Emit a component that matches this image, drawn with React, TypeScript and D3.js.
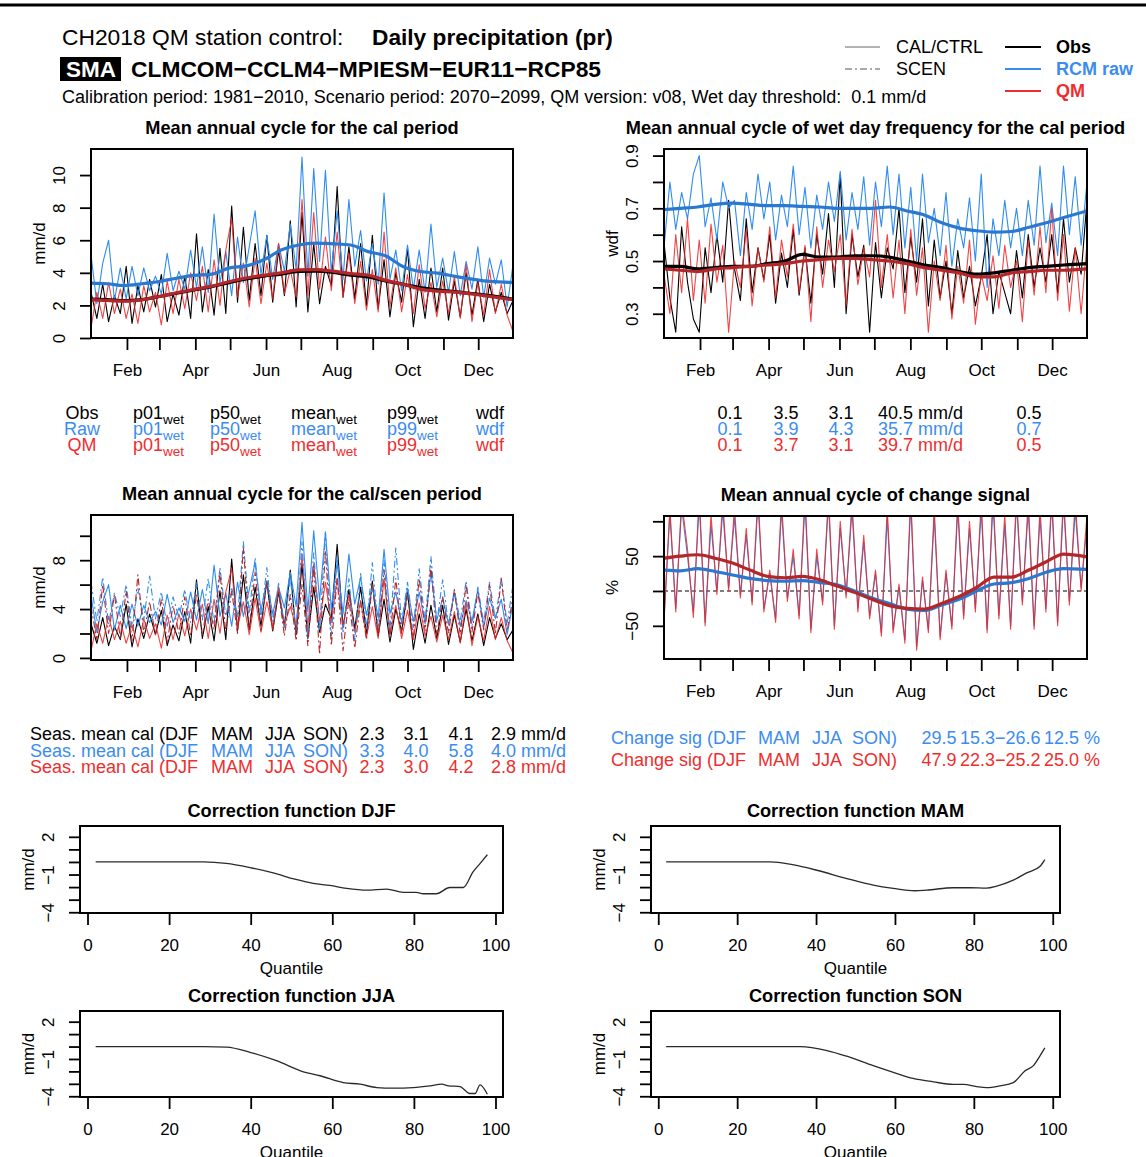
import React, { useRef, useEffect } from "react";
import * as d3 from "d3";

const FONT = "'Liberation Sans', Arial, Helvetica, sans-serif";

// month starts (day of year) and labels shown under the ticks
const monthDays = [32, 60, 91, 121, 152, 182, 213, 244, 274, 305, 335];
const monthLabels = ["Feb", "", "Apr", "", "Jun", "", "Aug", "", "Oct", "", "Dec"];

// days for the smoothed curves
const smoothDays = [1, 15, 30, 45, 60, 75, 90, 105, 120, 135, 150, 165, 180, 195, 210, 225, 240, 255, 270, 285, 300, 315, 330, 345, 365];

// daily cycle, sampled ~every 5 days (73 values, Jan -> Dec), mm/d
const obsCal = [
  2.8, 1.2, 3.3, 1.0, 2.6, 1.5, 4.4, 0.9, 3.2, 1.6, 3.6, 1.9, 3.9, 1.0, 2.7, 1.4, 3.8, 1.2,
  6.4, 1.6, 4.2, 1.4, 5.5, 1.5, 8.1, 2.2, 6.8, 2.3, 5.8, 2.6, 6.3, 2.2, 5.4, 2.6, 7.2, 1.9,
  7.7, 1.6, 5.8, 2.1, 4.4, 3.2, 9.3, 2.5, 5.6, 2.4, 5.8, 2.0, 6.3, 1.8, 4.8, 1.3, 4.0, 2.2,
  5.5, 0.7, 3.6, 1.2, 4.3, 1.6, 4.3, 1.1, 3.5, 1.3, 4.0, 1.4, 3.6, 1.0, 3.3, 1.6, 2.8, 1.5, 2.3,
];
const rawCal = [
  5.1, 2.1, 4.6, 6.0, 2.3, 4.3, 2.4, 4.4, 2.6, 4.3, 2.9, 3.8, 2.7, 5.2, 2.9, 4.1, 3.0, 5.4,
  3.1, 5.6, 2.8, 7.6, 3.4, 5.3, 2.6, 6.2, 3.4, 5.6, 7.8, 3.9, 6.3, 3.6, 5.8, 4.1, 7.0, 4.2,
  11.1, 3.8, 10.4, 4.7, 10.3, 4.0, 7.8, 3.6, 8.5, 4.4, 6.6, 3.5, 5.8, 3.3, 8.9, 3.6, 5.4, 2.9,
  5.7, 3.0, 5.4, 2.8, 7.0, 3.1, 4.9, 2.8, 5.3, 2.6, 4.7, 3.0, 5.6, 2.5, 4.9, 3.3, 4.8, 1.9, 4.5,
];
const qmCal = [
  0.6, 2.8, 1.2, 3.4, 1.5, 3.0, 1.2, 2.7, 0.9, 3.2, 1.6, 2.8, 0.8, 3.5, 1.5, 3.6, 1.8, 4.0,
  2.3, 4.4, 1.6, 4.8, 2.0, 5.4, 7.3, 2.5, 4.6, 1.9, 4.9, 2.1, 4.6, 2.4, 5.8, 2.7, 4.2, 2.5,
  8.5, 2.6, 7.7, 3.0, 6.2, 2.9, 6.5, 2.5, 5.2, 2.1, 4.7, 1.7, 4.2, 1.6, 6.5, 1.9, 4.3, 1.6,
  3.9, 1.5, 4.5, 1.8, 3.4, 1.3, 3.5, 1.5, 3.8, 1.2, 4.5, 1.0, 3.4, 1.4, 4.2, 1.5, 3.3, 1.4, 0.4,
];
const rawScen = [
  6.2, 3.0, 6.6, 2.8, 5.3, 3.4, 6.0, 2.5, 5.7, 3.1, 6.7, 3.2, 5.4, 2.6, 5.0, 3.3, 5.6, 2.9,
  6.2, 3.1, 6.5, 2.8, 7.4, 3.4, 5.8, 3.3, 9.5, 3.6, 8.2, 3.2, 7.4, 3.0, 6.1, 2.5, 6.6, 2.2,
  9.5, 1.6, 8.6, 2.2, 10.3, 1.8, 8.3, 2.0, 6.5, 1.3, 6.9, 2.4, 7.8, 2.5, 8.0, 2.2, 9.0, 2.8,
  6.2, 2.5, 7.3, 3.0, 8.3, 2.9, 6.4, 2.7, 5.6, 3.0, 6.3, 2.6, 5.8, 2.9, 6.2, 3.1, 6.6, 2.8, 6.0,
];
const qmScen = [
  4.2, 1.5, 6.0, 2.0, 5.2, 1.6, 5.5, 1.4, 6.8, 2.0, 4.6, 1.9, 4.8, 1.3, 4.3, 2.0, 5.0, 1.8,
  5.2, 1.9, 4.8, 2.3, 7.0, 2.1, 5.5, 2.0, 9.0, 2.4, 7.0, 2.2, 6.3, 2.2, 5.5, 1.8, 5.2, 1.4,
  6.0, 1.0, 7.5, 0.3, 8.8, 1.0, 6.5, 0.6, 4.8, 0.8, 4.6, 1.5, 6.0, 1.8, 7.2, 1.6, 6.5, 2.0,
  5.2, 1.7, 6.5, 2.2, 7.5, 1.8, 5.0, 2.0, 5.6, 1.9, 6.0, 2.1, 5.4, 2.3, 6.0, 2.0, 6.5, 2.2, 5.0,
];
const obsSmooth = [2.39, 2.35, 2.29, 2.35, 2.55, 2.75, 2.95, 3.15, 3.4, 3.62, 3.8, 3.92, 4.08, 4.1, 4.02, 3.85, 3.75, 3.5, 3.3, 3.1, 2.95, 2.85, 2.72, 2.6, 2.38];
const rawSmooth = [3.37, 3.33, 3.22, 3.33, 3.47, 3.67, 3.84, 3.92, 4.29, 4.43, 4.8, 5.4, 5.71, 5.82, 5.78, 5.71, 5.3, 5.05, 4.39, 4.08, 3.98, 3.78, 3.61, 3.47, 3.41];
const qmSmooth = [2.36, 2.3, 2.26, 2.35, 2.55, 2.78, 2.98, 3.18, 3.45, 3.68, 3.85, 4.0, 4.18, 4.2, 4.1, 3.95, 3.85, 3.55, 3.3, 3.0, 2.88, 2.82, 2.7, 2.55, 2.35];

// wet day frequency
const obsWdf = [
  0.57, 0.36, 0.23, 0.63, 0.42, 0.28, 0.23, 0.55, 0.38, 0.6, 0.42, 0.73, 0.47, 0.35, 0.66, 0.38, 0.55, 0.43,
  0.6, 0.34, 0.53, 0.4, 0.62, 0.37, 0.55, 0.34, 0.6, 0.45, 0.68, 0.4, 0.83, 0.3, 0.6, 0.44, 0.56, 0.23,
  0.57, 0.36, 0.55, 0.47, 0.7, 0.38, 0.59, 0.42, 0.66, 0.33, 0.58, 0.36, 0.5, 0.3, 0.54, 0.36, 0.48, 0.33,
  0.44, 0.6, 0.3, 0.46, 0.38, 0.3, 0.54, 0.36, 0.6, 0.4, 0.55, 0.42, 0.6, 0.38, 0.66, 0.42, 0.55, 0.45, 0.73,
];
const rawWdf = [
  0.55, 0.8, 0.62, 0.76, 0.66, 0.83, 0.9, 0.63, 0.74, 0.58, 0.8, 0.7, 0.73, 0.52, 0.76, 0.62, 0.83, 0.66,
  0.8, 0.58, 0.75, 0.63, 0.86, 0.6, 0.78, 0.55, 0.75, 0.62, 0.8, 0.65, 0.84, 0.58, 0.76, 0.62, 0.82, 0.56,
  0.8, 0.63, 0.86, 0.6, 0.83, 0.55, 0.78, 0.5, 0.83, 0.57, 0.7, 0.52, 0.76, 0.48, 0.66, 0.55, 0.74, 0.5,
  0.83, 0.4, 0.66, 0.52, 0.73, 0.55, 0.7, 0.52, 0.73, 0.56, 0.86, 0.57, 0.72, 0.52, 0.86, 0.6, 0.82, 0.56, 0.8,
];
const qmWdf = [
  0.45, 0.3, 0.6, 0.38, 0.66, 0.35, 0.58, 0.34, 0.64, 0.42, 0.56, 0.23, 0.5, 0.4, 0.62, 0.33, 0.55, 0.42,
  0.63, 0.36, 0.58, 0.44, 0.64, 0.38, 0.56, 0.27, 0.63, 0.4, 0.58, 0.46, 0.6, 0.33, 0.62, 0.41, 0.55, 0.44,
  0.73, 0.4, 0.6, 0.36, 0.58, 0.3, 0.62, 0.37, 0.55, 0.23, 0.5, 0.35, 0.56, 0.28, 0.48, 0.34, 0.58, 0.26,
  0.45, 0.35, 0.52, 0.32, 0.56, 0.4, 0.5, 0.27, 0.58, 0.37, 0.63, 0.38, 0.7, 0.35, 0.6, 0.31, 0.55, 0.3, 0.57,
];
const obsWdfSmooth = [0.48, 0.48, 0.47, 0.475, 0.48, 0.48, 0.49, 0.5, 0.525, 0.515, 0.515, 0.52, 0.52, 0.515, 0.5, 0.485, 0.475, 0.46, 0.45, 0.455, 0.465, 0.475, 0.48, 0.485, 0.49];
const rawWdfSmooth = [0.695, 0.7, 0.705, 0.715, 0.72, 0.715, 0.71, 0.71, 0.707, 0.705, 0.7, 0.7, 0.7, 0.705, 0.69, 0.675, 0.645, 0.625, 0.615, 0.61, 0.612, 0.628, 0.645, 0.665, 0.69];
const qmWdfSmooth = [0.47, 0.465, 0.46, 0.47, 0.475, 0.48, 0.485, 0.49, 0.5, 0.505, 0.51, 0.51, 0.505, 0.5, 0.49, 0.475, 0.465, 0.455, 0.44, 0.44, 0.455, 0.46, 0.465, 0.465, 0.47];

// change signal, %
const rawChange = [
  -40, 110, -25, 120, 50, -30, 125, -45, 95, 0, 115, 5, 105, -5, 80, -15, 125, -25,
  25, -40, 115, -10, 50, -35, 125, -55, 50, -15, 125, -50, 90, -5, 115, -25, 70, -35,
  25, -60, 105, -55, 5, -70, 125, -80, 15, -55, 105, -65, 25, -50, 115, -35, 90, -25,
  115, -55, 125, -35, 95, -50, 125, -15, 115, -50, 105, -25, 125, -45, 125, -15, 115, 5, 95,
];
const qmChange = [
  -45, 120, -30, 130, 60, -38, 140, -50, 110, -5, 130, 0, 120, -10, 90, -20, 140, -30,
  30, -45, 130, -15, 60, -40, 140, -60, 60, -20, 140, -55, 100, -10, 130, -30, 80, -40,
  30, -65, 120, -60, 10, -75, 140, -85, 20, -60, 120, -70, 30, -55, 130, -40, 100, -30,
  130, -60, 140, -40, 110, -55, 140, -20, 130, -55, 120, -30, 140, -50, 140, -20, 130, 0, 110,
];
const rawChangeSmooth = [30, 29, 32, 28, 23, 18, 15, 14, 15, 12, 9, 0, -10, -18, -26, -28, -20, -12, 0, 10, 12, 18, 27, 32, 31];
const qmChangeSmooth = [47, 50, 52, 47, 40, 30, 21, 19, 21, 16, 7, -2, -12, -21, -25, -26, -18, -8, 5, 20, 20, 30, 42, 53, 49];

// correction functions (quantile, mm/d)
const qDJF = [2, 28.5, 34, 39.8, 45.5, 50.8, 55.3, 59.4, 63.5, 68.4, 73.3, 77.4, 80.6, 82.3, 85.5, 88.8, 92.1, 94.5, 96.2, 98];
const cDJF = [0, 0, -0.12, -0.45, -0.87, -1.37, -1.71, -1.87, -2.1, -2.24, -2.16, -2.42, -2.42, -2.53, -2.53, -2.03, -2.03, -0.79, -0.13, 0.58];
const qMAM = [2, 28.4, 34, 40.2, 47.8, 54.5, 59.6, 65.1, 68, 74.8, 79, 83.2, 85.8, 90, 93.4, 96.8, 98];
const cMAM = [0, 0, -0.22, -0.66, -1.32, -1.84, -2.1, -2.29, -2.24, -2.05, -2.05, -2.08, -1.92, -1.45, -0.87, -0.34, 0.18];
const qJJA = [2, 28.5, 34.1, 39.8, 46.3, 52.9, 57, 62.7, 66.8, 70.9, 75, 79.8, 84, 86.8, 88.5, 91.3, 93.7, 95, 96.2, 98];
const cJJA = [0, 0, -0.05, -0.46, -1.14, -2.03, -2.35, -2.9, -3.03, -3.3, -3.35, -3.3, -3.16, -3.03, -3.16, -3.22, -3.78, -3.78, -3.08, -3.84];
const qSON = [2, 36, 42.8, 47.8, 54.5, 59.6, 64.6, 69.7, 74.8, 77.4, 80.7, 83.2, 86.6, 90, 93, 95.1, 96.8, 98];
const cSON = [0, 0, -0.32, -0.78, -1.54, -2.08, -2.57, -2.84, -3.05, -3.05, -3.22, -3.3, -3.16, -2.9, -1.95, -1.54, -0.73, -0.11];

const C = {
  obs: "#000000",
  raw: "#2f8cf0",
  rawDark: "#2a78cf",
  qm: "#ee2424",
  qmDark: "#b3262a",
  txtBlue: "#3b8cf0",
  txtRed: "#ee2e2e",
};

const txt = (g, x, y, s, o: any = {}) =>
  g
    .append("text")
    .attr("x", x)
    .attr("y", y)
    .attr("font-family", FONT)
    .attr("font-size", o.size ?? 18)
    .attr("font-weight", o.bold ? "bold" : null)
    .attr("fill", o.color ?? "#000")
    .attr("text-anchor", o.anchor ?? "start")
    .style("white-space", "pre")
    .text(s);

// base text with a "wet" subscript
const subTxt = (g, x, y, base, color) => {
  const t = g.append("text").attr("x", x).attr("y", y).attr("font-family", FONT).attr("font-size", 18).attr("fill", color);
  t.append("tspan").text(base);
  t.append("tspan").attr("font-size", 13.5).attr("dy", 5).text("wet");
};

const styleAxis = (a) => {
  a.select(".domain").remove();
  a.selectAll(".tick line").attr("stroke", "#000").attr("stroke-width", 1.8);
  a.selectAll("text").attr("font-family", FONT).attr("font-size", 17).attr("fill", "#000");
};

const yAxisRotated = (g, y, left, ticks, labels) => {
  const a = g
    .append("g")
    .attr("transform", `translate(${left},0)`)
    .call(d3.axisLeft(y).tickValues(ticks).tickSize(11).tickFormat((d, i) => labels[i]));
  styleAxis(a);
  a.selectAll("text")
    .attr("x", 0)
    .attr("y", -26)
    .attr("dy", 0)
    .attr("text-anchor", "middle")
    .attr("transform", "rotate(-90)");
};

const drawBox = (g, l, t, r, b) =>
  g.append("rect").attr("x", l).attr("y", t).attr("width", r - l).attr("height", b - t).attr("fill", "none").attr("stroke", "#000").attr("stroke-width", 2);

let clipCount = 0;

const cyclePanel = (svg, p) => {
  const x = d3.scaleLinear().domain([1, 365]).range([p.left, p.right]);
  const y = d3.scaleLinear().domain(p.yDomain).range([p.bottom, p.top]);
  const g = svg.append("g");
  const id = "clip" + clipCount++;
  svg.append("clipPath").attr("id", id).append("rect").attr("x", p.left).attr("y", p.top).attr("width", p.right - p.left).attr("height", p.bottom - p.top);
  const plot = g.append("g").attr("clip-path", `url(#${id})`);

  if (p.zeroLine) {
    plot.append("line").attr("x1", p.left).attr("x2", p.right).attr("y1", y(0)).attr("y2", y(0)).attr("stroke", "#000").attr("stroke-width", 1.2).attr("stroke-dasharray", "4,3");
  }

  p.lines.forEach((l) => {
    const days = l.smooth ? smoothDays : l.values.map((_, i) => 1 + (i * 364) / (l.values.length - 1));
    const line = d3
      .line<number>()
      .x((_, i) => x(days[i]))
      .y((v) => y(v));
    if (l.smooth) line.curve(d3.curveMonotoneX);
    plot
      .append("path")
      .attr("d", line(l.values))
      .attr("fill", "none")
      .attr("stroke", l.color)
      .attr("stroke-width", l.smooth ? 3.2 : 1.1)
      .attr("stroke-opacity", l.opacity ?? 1)
      .attr("stroke-dasharray", l.dash ?? null)
      .attr("stroke-linejoin", "round");
  });

  drawBox(g, p.left, p.top, p.right, p.bottom);

  const xa = g
    .append("g")
    .attr("transform", `translate(0,${p.bottom})`)
    .call(d3.axisBottom(x).tickValues(monthDays).tickSize(12).tickFormat((d, i) => monthLabels[i]));
  styleAxis(xa);
  xa.selectAll("text").attr("y", 38).attr("dy", 0);

  yAxisRotated(g, y, p.left, p.yTicks, p.yLabels);

  txt(g, (p.left + p.right) / 2, p.top - 15, p.title, { bold: true, size: 18.2, anchor: "middle" });
  g.append("text")
    .attr("transform", `translate(${p.left - 46},${(p.top + p.bottom) / 2}) rotate(-90)`)
    .attr("text-anchor", "middle")
    .attr("font-family", FONT)
    .attr("font-size", 17)
    .text(p.ylab);
};

const corrPanel = (svg, p) => {
  const x = d3.scaleLinear().domain([-1.84, 101.84]).range([p.left, p.right]);
  const y = d3.scaleLinear().domain([-4.06, 2.86]).range([p.bottom, p.top]);
  const g = svg.append("g");
  const line = d3
    .line<number>()
    .x((_, i) => x(p.q[i]))
    .y((v) => y(v))
    .curve(d3.curveMonotoneX);
  g.append("path").attr("d", line(p.c)).attr("fill", "none").attr("stroke", "#2a2a2a").attr("stroke-width", 1.3);
  drawBox(g, p.left, p.top, p.right, p.bottom);

  const xa = g
    .append("g")
    .attr("transform", `translate(0,${p.bottom})`)
    .call(d3.axisBottom(x).tickValues([0, 20, 40, 60, 80, 100]).tickSize(12).tickFormat(d3.format("d")));
  styleAxis(xa);
  xa.selectAll("text").attr("y", 38).attr("dy", 0);

  yAxisRotated(g, y, p.left, [2, 1, 0, -1, -2, -3, -4], ["2", "", "", "\u22121", "", "", "\u22124"]);

  txt(g, (p.left + p.right) / 2, p.top - 9, p.title, { bold: true, size: 18.2, anchor: "middle" });
  txt(g, (p.left + p.right) / 2, p.bottom + 61, "Quantile", { anchor: "middle", size: 17 });
  g.append("text")
    .attr("transform", `translate(${p.left - 46},${(p.top + p.bottom) / 2}) rotate(-90)`)
    .attr("text-anchor", "middle")
    .attr("font-family", FONT)
    .attr("font-size", 17)
    .text("mm/d");
};

const App = () => {
  const svgRef = useRef<SVGSVGElement>(null);

  useEffect(() => {
    const svg = d3.select(svgRef.current);
    svg.selectAll("*").remove();

    // header
    svg.append("line").attr("x1", 0).attr("x2", 1146).attr("y1", 5).attr("y2", 5).attr("stroke", "#000").attr("stroke-width", 3);
    txt(svg, 62, 45, "CH2018 QM station control:", { size: 22.8 });
    txt(svg, 372, 45, "Daily precipitation (pr)", { size: 22.7, bold: true });
    svg.append("rect").attr("x", 60).attr("y", 57).attr("width", 61).attr("height", 24).attr("fill", "#000");
    txt(svg, 66, 77, "SMA", { size: 22.5, bold: true, color: "#fff" });
    txt(svg, 131, 77, "CLMCOM\u2212CCLM4\u2212MPIESM\u2212EUR11\u2212RCP85", { size: 22.8, bold: true });
    txt(svg, 62, 103, "Calibration period: 1981\u22122010, Scenario period: 2070\u22122099, QM version: v08, Wet day threshold:\u00a0\u00a00.1 mm/d", { size: 18 });

    // legend
    const lg = svg.append("g");
    lg.append("line").attr("x1", 845).attr("x2", 880).attr("y1", 47).attr("y2", 47).attr("stroke", "#999").attr("stroke-width", 1.5);
    lg.append("line").attr("x1", 845).attr("x2", 880).attr("y1", 69).attr("y2", 69).attr("stroke", "#555").attr("stroke-width", 1.2).attr("stroke-dasharray", "7,3,2,3");
    txt(lg, 896, 53, "CAL/CTRL");
    txt(lg, 896, 75, "SCEN");
    [
      ["Obs", C.obs, 47],
      ["RCM raw", C.txtBlue, 69],
      ["QM", C.txtRed, 91],
    ].forEach(([s, col, yy]: any) => {
      lg.append("line").attr("x1", 1005).attr("x2", 1041).attr("y1", yy).attr("y2", yy).attr("stroke", col).attr("stroke-width", 2);
      txt(lg, 1056, yy + 6, s, { bold: true, color: col });
    });

    cyclePanel(svg, {
      left: 91, right: 513, top: 149, bottom: 338,
      yDomain: [0, 11.6], yTicks: [0, 2, 4, 6, 8, 10], yLabels: ["0", "2", "4", "6", "8", "10"],
      title: "Mean annual cycle for the cal period", ylab: "mm/d",
      lines: [
        { values: obsCal, color: C.obs },
        { values: rawCal, color: C.raw },
        { values: qmCal, color: C.qm, opacity: 0.85 },
        { values: rawSmooth, color: C.rawDark, smooth: true },
        { values: obsSmooth, color: C.obs, smooth: true },
        { values: qmSmooth, color: C.qmDark, smooth: true },
      ],
    });

    cyclePanel(svg, {
      left: 664, right: 1087, top: 149, bottom: 338,
      yDomain: [0.208, 0.925], yTicks: [0.3, 0.4, 0.5, 0.6, 0.7, 0.8, 0.9], yLabels: ["0.3", "", "0.5", "", "0.7", "", "0.9"],
      title: "Mean annual cycle of wet day frequency for the cal period", ylab: "wdf",
      lines: [
        { values: obsWdf, color: C.obs },
        { values: rawWdf, color: C.raw },
        { values: qmWdf, color: C.qm, opacity: 0.85 },
        { values: rawWdfSmooth, color: C.rawDark, smooth: true },
        { values: obsWdfSmooth, color: C.obs, smooth: true },
        { values: qmWdfSmooth, color: C.qmDark, smooth: true },
      ],
    });

    cyclePanel(svg, {
      left: 91, right: 513, top: 515, bottom: 660,
      yDomain: [-0.17, 11.7], yTicks: [0, 2, 4, 6, 8, 10], yLabels: ["0", "", "4", "", "8", ""],
      title: "Mean annual cycle for the cal/scen period", ylab: "mm/d",
      lines: [
        { values: obsCal, color: C.obs },
        { values: rawCal, color: C.raw },
        { values: qmCal, color: C.qm, opacity: 0.85 },
        { values: rawScen, color: C.raw, dash: "7,3,2,3" },
        { values: qmScen, color: C.qmDark, dash: "7,3,2,3" },
      ],
    });

    cyclePanel(svg, {
      left: 664, right: 1087, top: 516, bottom: 659,
      yDomain: [-97.6, 107.6], yTicks: [-50, 0, 50, 100], yLabels: ["\u221250", "", "50", ""],
      title: "Mean annual cycle of change signal", ylab: "%", zeroLine: true,
      lines: [
        { values: rawChange, color: C.raw },
        { values: qmChange, color: C.qm, opacity: 0.85 },
        { values: rawChangeSmooth, color: C.rawDark, smooth: true },
        { values: qmChangeSmooth, color: C.qmDark, smooth: true },
      ],
    });

    // statistics block (cal period)
    const st = svg.append("g");
    const rowsY = [419, 435, 451];
    const rowNames = ["Obs", "Raw", "QM"];
    const rowCols = [C.obs, C.txtBlue, C.txtRed];
    const statVals = [
      ["0.1", "3.5", "3.1", "40.5 mm/d", "0.5"],
      ["0.1", "3.9", "4.3", "35.7 mm/d", "0.7"],
      ["0.1", "3.7", "3.1", "39.7 mm/d", "0.5"],
    ];
    rowsY.forEach((yy, r) => {
      const col = rowCols[r];
      txt(st, 82, yy, rowNames[r], { color: col, anchor: "middle" });
      subTxt(st, 133, yy, "p01", col);
      subTxt(st, 210, yy, "p50", col);
      subTxt(st, 291, yy, "mean", col);
      subTxt(st, 387, yy, "p99", col);
      txt(st, 476, yy, "wdf", { color: col });
      const v = statVals[r];
      txt(st, 730, yy, v[0], { color: col, anchor: "middle" });
      txt(st, 786, yy, v[1], { color: col, anchor: "middle" });
      txt(st, 841, yy, v[2], { color: col, anchor: "middle" });
      txt(st, 878, yy, v[3], { color: col });
      txt(st, 1029, yy, v[4], { color: col, anchor: "middle" });
    });

    // seasonal means
    const seasVals = [
      ["2.3", "3.1", "4.1", "2.9 mm/d"],
      ["3.3", "4.0", "5.8", "4.0 mm/d"],
      ["2.3", "3.0", "4.2", "2.8 mm/d"],
    ];
    [740, 757, 773].forEach((yy, r) => {
      const col = rowCols[r];
      txt(st, 30, yy, "Seas. mean cal (DJF", { color: col });
      txt(st, 211, yy, "MAM", { color: col });
      txt(st, 265, yy, "JJA", { color: col });
      txt(st, 303, yy, "SON)", { color: col });
      const v = seasVals[r];
      txt(st, 372, yy, v[0], { color: col, anchor: "middle" });
      txt(st, 416, yy, v[1], { color: col, anchor: "middle" });
      txt(st, 461, yy, v[2], { color: col, anchor: "middle" });
      txt(st, 491, yy, v[3], { color: col });
    });

    // change signal by season
    const chgVals = [
      ["29.5", "15.3\u221226.6", "12.5 %"],
      ["47.9", "22.3\u221225.2", "25.0 %"],
    ];
    [744, 766].forEach((yy, r) => {
      const col = rowCols[r + 1];
      txt(st, 611, yy, "Change sig (DJF", { color: col });
      txt(st, 758, yy, "MAM", { color: col });
      txt(st, 812, yy, "JJA", { color: col });
      txt(st, 852, yy, "SON)", { color: col });
      const v = chgVals[r];
      txt(st, 939, yy, v[0], { color: col, anchor: "middle" });
      txt(st, 960, yy, v[1], { color: col });
      txt(st, 1044, yy, v[2], { color: col });
    });

    corrPanel(svg, { left: 80, right: 503, top: 826, bottom: 913, q: qDJF, c: cDJF, title: "Correction function DJF" });
    corrPanel(svg, { left: 651, right: 1060, top: 826, bottom: 913, q: qMAM, c: cMAM, title: "Correction function MAM" });
    corrPanel(svg, { left: 80, right: 503, top: 1011, bottom: 1097, q: qJJA, c: cJJA, title: "Correction function JJA" });
    corrPanel(svg, { left: 651, right: 1060, top: 1011, bottom: 1097, q: qSON, c: cSON, title: "Correction function SON" });
  }, []);

  return (
    <div style={{ position: "absolute", left: 0, top: 0 }}>
      <svg ref={svgRef} width={1146} height={1157} style={{ display: "block", background: "#fff" }}></svg>
    </div>
  );
};

export default App;
